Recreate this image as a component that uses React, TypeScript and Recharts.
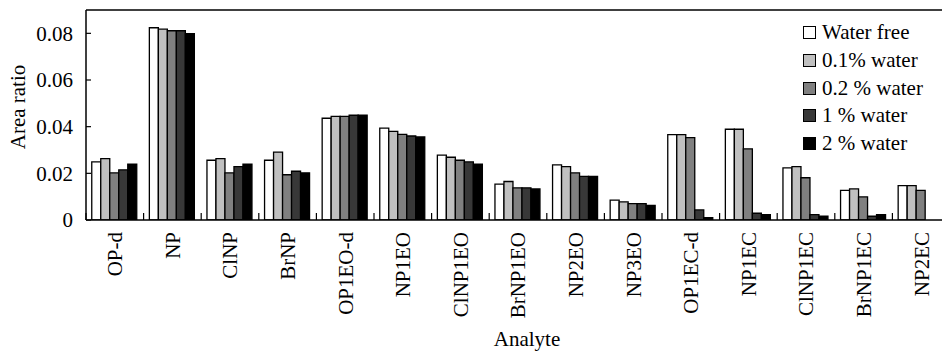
import { BarChart, Bar, XAxis, YAxis, ReferenceLine } from "recharts";

const analytes = [
  "OP-d", "NP", "ClNP", "BrNP", "OP1EO-d", "NP1EO", "ClNP1EO", "BrNP1EO",
  "NP2EO", "NP3EO", "OP1EC-d", "NP1EC", "ClNP1EC", "BrNP1EC", "NP2EC",
];

const waterFree = [0.0249, 0.0824, 0.0256, 0.0256, 0.0436, 0.0394, 0.0278, 0.0154, 0.0236, 0.0085, 0.0366, 0.0389, 0.0223, 0.0127, 0.0147];
const water01 = [0.0263, 0.0818, 0.0263, 0.0291, 0.0444, 0.038, 0.0269, 0.0165, 0.0229, 0.0078, 0.0366, 0.0389, 0.0229, 0.0133, 0.0147];
const water02 = [0.0202, 0.0811, 0.0202, 0.0194, 0.0444, 0.0367, 0.0256, 0.0138, 0.0202, 0.007, 0.0353, 0.0305, 0.0181, 0.0099, 0.0127];
const water1 = [0.0215, 0.0811, 0.0229, 0.0209, 0.0449, 0.036, 0.0249, 0.0138, 0.0187, 0.007, 0.0043, 0.0029, 0.0023, 0.0016, null];
const water2 = [0.0239, 0.0799, 0.0239, 0.0202, 0.0449, 0.0356, 0.0239, 0.0133, 0.0187, 0.0063, 0.001, 0.0023, 0.0016, 0.0023, null];

const yTicks = [0, 0.02, 0.04, 0.06, 0.08];

const series = [
  { key: "free", name: "Water free", color: "#ffffff" },
  { key: "w01", name: "0.1% water", color: "#c0c0c0" },
  { key: "w02", name: "0.2 % water", color: "#808080" },
  { key: "w1", name: "1 % water", color: "#383838" },
  { key: "w2", name: "2 % water", color: "#000000" },
];

const data = analytes.map((name, i) => ({
  name,
  free: waterFree[i],
  w01: water01[i],
  w02: water02[i],
  w1: water1[i],
  w2: water2[i],
}));

const FONT = "Liberation Serif, Times New Roman, Times, DejaVu Serif, serif";
const TICK_MARGIN = 12;

// rotated category label plus a small inward tick on the left edge of each band
function CategoryTick({ x, y, payload }: any) {
  const half = payload?.offset ?? 28.8;
  const axisY = y - TICK_MARGIN;
  return (
    <g>
      <line x1={x - half} x2={x - half} y1={axisY} y2={axisY - 7} stroke="#000" strokeWidth={1.2} />
      <text
        x={x}
        y={y}
        transform={`rotate(-90, ${x}, ${y})`}
        textAnchor="end"
        dy="0.35em"
        style={{ fontFamily: FONT, fontSize: 21 }}
        fill="#000"
      >
        {payload.value}
      </text>
    </g>
  );
}

function LegendBox() {
  return (
    <div style={{ position: "absolute", left: 803, top: 19, fontFamily: FONT, fontSize: 21, color: "#000" }}>
      {series.map((s) => (
        <div key={s.key} style={{ display: "flex", alignItems: "center", height: 27.7 }}>
          <span
            style={{
              display: "inline-block",
              width: 11,
              height: 11,
              background: s.color,
              border: "1px solid #000",
              marginRight: 6,
            }}
          />
          <span style={{ whiteSpace: "pre" }}>{s.name}</span>
        </div>
      ))}
    </div>
  );
}

export default function App() {
  return (
    <div style={{ position: "absolute", left: 0, top: 0, width: 942, height: 352, overflow: "hidden", background: "#fff", fontFamily: FONT }}>
      <BarChart
        width={960}
        height={352}
        data={data}
        margin={{ top: 10, right: 10, left: 0, bottom: 0 }}
        barCategoryGap="10%"
        barGap={0}
        style={{ fontFamily: FONT }}
      >
        <XAxis
          dataKey="name"
          interval={0}
          height={132}
          axisLine={{ stroke: "#000", strokeWidth: 1.5 }}
          tickLine={false}
          tickSize={0}
          tickMargin={TICK_MARGIN}
          tick={<CategoryTick />}
          label={{
            content: ({ viewBox }: any) => (
              <text
                x={viewBox.x + viewBox.width / 2 + 9}
                y={viewBox.y + viewBox.height - 6}
                textAnchor="middle"
                style={{ fontFamily: FONT, fontSize: 21 }}
                fill="#000"
              >
                Analyte
              </text>
            ),
          }}
        />
        <YAxis
          width={86}
          domain={[0, 0.09]}
          ticks={yTicks}
          allowDataOverflow
          axisLine={{ stroke: "#000", strokeWidth: 1.5 }}
          tickLine={{ stroke: "#000", strokeWidth: 1.2 }}
          tickSize={-5}
          tickMargin={18}
          tick={{ fill: "#000", fontSize: 21, fontFamily: FONT, style: { fontFamily: FONT } }}
          tickFormatter={(v: number) => (v === 0 ? "0" : v.toFixed(2))}
          label={{
            content: () => (
              <text
                x={18}
                y={107}
                transform="rotate(-90, 18, 107)"
                textAnchor="middle"
                dy="0.35em"
                style={{ fontFamily: FONT, fontSize: 21 }}
                fill="#000"
              >
                Area ratio
              </text>
            ),
          }}
        />
        <ReferenceLine y={0.09} stroke="#000" strokeWidth={1.5} />
        {series.map((s) => (
          <Bar
            key={s.key}
            dataKey={s.key}
            name={s.name}
            fill={s.color}
            stroke="#000"
            strokeWidth={1.3}
            isAnimationActive={false}
          />
        ))}
      </BarChart>
      <LegendBox />
    </div>
  );
}
